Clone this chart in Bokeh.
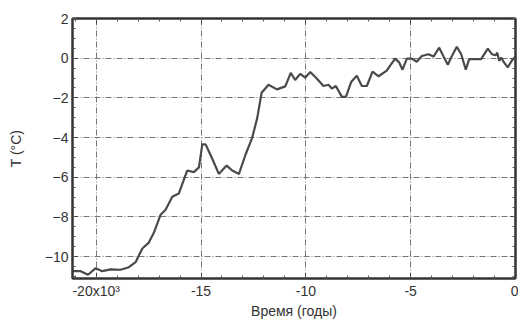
from bokeh.plotting import figure
from bokeh.models import FixedTicker, Range1d, LinearAxis
from bokeh.embed import file_html
from bokeh.resources import INLINE

# Time in years (negative = before present)
years = [-21130, -20740, -20390, -20020, -19710, -19310, -18840, -18440, -18120,
         -17800, -17490, -17250, -16930, -16690, -16370, -16060, -15660, -15340,
         -15100, -14940, -14780, -14460, -14150, -13780, -13510, -13190, -12870,
         -12560, -12320, -12110, -11780, -11380, -10980, -10720, -10510, -10270,
         -10030, -9790, -9480, -9160, -8920, -8760, -8570, -8280, -8090, -7840,
         -7570, -7330, -7090, -6820, -6530, -6140, -5980, -5740, -5550, -5390,
         -5180, -4950, -4710, -4470, -4150, -3910, -3640, -3430, -3230, -3070,
         -2800, -2590, -2370, -2210, -1920, -1640, -1320, -1130, -940, -870,
         -780, -680, -570, -370, -180, -10]
temps = [-10.73, -10.73, -10.91, -10.58, -10.73, -10.64, -10.66, -10.53, -10.28,
         -9.59, -9.29, -8.80, -7.89, -7.64, -6.98, -6.82, -5.66, -5.74,
         -5.50, -4.34, -4.34, -5.08, -5.83, -5.41, -5.66, -5.83, -4.84,
         -4.01, -3.02, -1.74, -1.34, -1.57, -1.42, -0.74, -1.10, -0.79,
         -0.98, -0.70, -1.02, -1.40, -1.34, -1.53, -1.40, -1.95, -1.95, -1.20,
         -0.88, -1.40, -1.40, -0.68, -0.91, -0.63, -0.38, -0.02, -0.21, -0.58,
         -0.02, -0.02, -0.18, 0.11, 0.20, 0.08, 0.53, 0.08, -0.33, 0.03,
         0.58, 0.20, -0.58, -0.05, -0.05, -0.05, 0.48, 0.20, 0.15, 0.28,
         -0.13, 0.03, -0.18, -0.46, -0.13, 0.08]

x_ticks = [-20000, -15000, -10000, -5000, 0]
x_tick_labels = ["-20x10\u00b3", "-15", "-10", "-5", "0"]
y_ticks = [2, 0, -2, -4, -6, -8, -10]
x_minor = [t for t in range(-21000, 1, 1000)]
y_minor = [v / 2 for v in range(-22, 5)]

p = figure(width=518, height=321, output_backend="svg", toolbar_location=None,
           x_range=Range1d(-21130, 0), y_range=Range1d(-11.1, 2.0),
           min_border_left=72, min_border_right=3, min_border_top=18,
           min_border_bottom=38)

p.line(years, temps, line_color="#4a4a4a", line_width=2.2)

xa = p.below[0]
ya = p.left[0]

# tick-only axes on the top and right of the box
top_ax = LinearAxis()
right_ax = LinearAxis()
for ax in (top_ax, right_ax):
    ax.major_label_text_font_size = "0px"
    ax.major_label_standoff = 0
    ax.axis_label = None
top_ax.ticker = FixedTicker(ticks=x_ticks, minor_ticks=x_minor)
right_ax.ticker = FixedTicker(ticks=y_ticks, minor_ticks=y_minor)
top_ax.major_label_overrides = {t: "" for t in x_ticks}
right_ax.major_label_overrides = {t: "" for t in y_ticks}
p.add_layout(top_ax, "above")
p.add_layout(right_ax, "right")

for ax in (xa, ya, top_ax, right_ax):
    ax.axis_line_color = "#333333"
    ax.axis_line_width = 2
    ax.major_tick_in = 5
    ax.major_tick_out = 0
    ax.minor_tick_in = 3
    ax.minor_tick_out = 0
    ax.major_tick_line_color = "#333333"
    ax.minor_tick_line_color = "#555555"

for ax in (xa, ya):
    ax.major_label_text_font = "Liberation Sans"
    ax.major_label_text_font_size = "14px"
    ax.major_label_text_color = "#333333"
    ax.axis_label_text_font = "Liberation Sans"
    ax.axis_label_text_font_size = "14px"
    ax.axis_label_text_font_style = "normal"
    ax.axis_label_text_color = "#333333"
    ax.major_label_standoff = 4

xa.ticker = FixedTicker(ticks=x_ticks, minor_ticks=x_minor)
xa.major_label_overrides = {t: l for t, l in zip(x_ticks, x_tick_labels)}
ya.ticker = FixedTicker(ticks=y_ticks, minor_ticks=y_minor)
xa.axis_label = "Время (годы)"
ya.axis_label = "T (°C)"
xa.axis_label_standoff = 1
ya.axis_label_standoff = 18

p.xgrid.ticker = FixedTicker(ticks=x_ticks)
p.ygrid.ticker = FixedTicker(ticks=y_ticks)
for g in (p.xgrid[0], p.ygrid[0]):
    g.grid_line_color = "#777777"
    g.grid_line_dash = "6 2 1 2"
    g.grid_line_width = 1

p.outline_line_color = "#333333"
p.outline_line_width = 2
p.background_fill_color = "white"
p.border_fill_color = "white"

open("out.html", "w").write(file_html(p, INLINE))
